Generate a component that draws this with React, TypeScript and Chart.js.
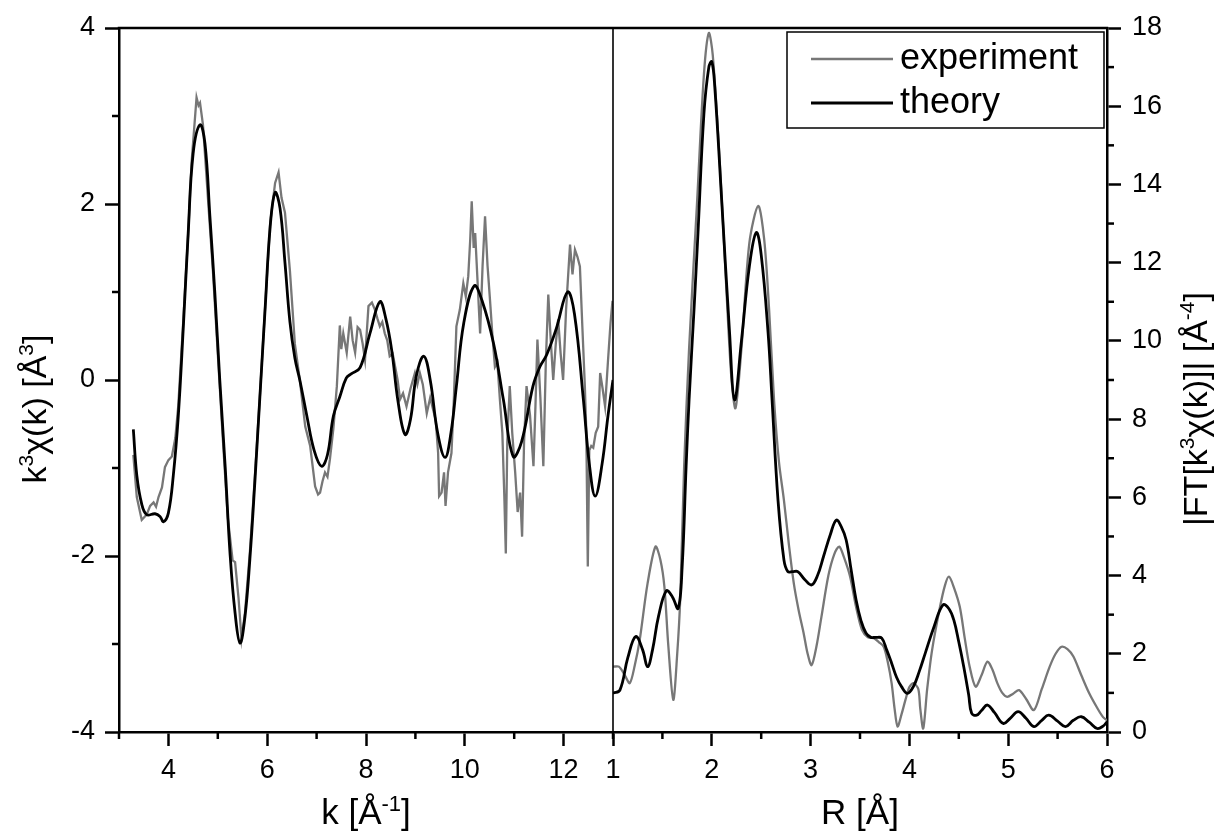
import React, { useEffect, useRef } from 'react';
import { Chart, registerables } from 'chart.js';

Chart.register(...registerables);

// ---------- data: k-space (left panel) ----------
const kExp = [
  3.29, 3.36, 3.46, 3.56, 3.63, 3.70, 3.75, 3.80, 3.87, 3.93, 4.00, 4.07, 4.14, 4.20, 4.30, 4.40, 4.47, 4.57, 4.61, 4.64,
  4.70, 4.80, 4.90, 5.00, 5.10, 5.20, 5.30, 5.35, 5.42, 5.48, 5.55, 5.65, 5.75, 5.85, 5.96, 6.06, 6.16, 6.23, 6.29, 6.36,
  6.46, 6.56, 6.66, 6.77, 6.87, 6.97, 7.03, 7.07, 7.12, 7.17, 7.22, 7.27, 7.34, 7.41, 7.47, 7.50, 7.54, 7.61, 7.68, 7.73,
  7.78, 7.83, 7.88, 7.93, 7.98, 8.05, 8.12, 8.18, 8.23, 8.28, 8.33, 8.38, 8.43, 8.48, 8.54, 8.59, 8.64, 8.69, 8.75, 8.82,
  8.90, 8.99, 9.04, 9.09, 9.15, 9.23, 9.30, 9.36, 9.41, 9.46, 9.48, 9.53, 9.58, 9.61, 9.66, 9.73, 9.78, 9.83, 9.90, 9.97,
  10.02, 10.07, 10.11, 10.14, 10.18, 10.21, 10.26, 10.31, 10.36, 10.41, 10.46, 10.51, 10.56, 10.61, 10.66, 10.71, 10.76, 10.80, 10.83, 10.86,
  10.91, 10.96, 11.02, 11.07, 11.12, 11.16, 11.20, 11.25, 11.32, 11.39, 11.43, 11.47, 11.53, 11.59, 11.64, 11.69, 11.74, 11.79, 11.84, 11.89,
  11.94, 11.99, 12.05, 12.13, 12.18, 12.23, 12.28, 12.33, 12.38, 12.43, 12.46, 12.49, 12.52, 12.56, 12.60, 12.65, 12.70, 12.74, 12.79, 12.84,
  12.90, 12.95, 12.99,
];
const chiExp = [
  -0.85, -1.33, -1.59, -1.53, -1.43, -1.39, -1.44, -1.33, -1.22, -0.99, -0.91, -0.87, -0.66, -0.29, 0.66, 1.66, 2.48, 3.21, 3.12, 3.15,
  2.90, 2.07, 1.25, 0.30, -0.65, -1.55, -2.05, -2.07, -2.48, -2.94, -2.65, -1.95, -1.10, -0.20, 0.85, 1.78, 2.24, 2.36, 2.07, 1.90,
  1.24, 0.41, 0.00, -0.53, -0.75, -1.21, -1.30, -1.28, -1.15, -1.05, -1.10, -0.90, -0.55, -0.07, 0.62, 0.35, 0.53, 0.31, 0.72, 0.45,
  0.31, 0.60, 0.57, 0.42, 0.23, 0.84, 0.88, 0.80, 0.70, 0.61, 0.66, 0.53, 0.45, 0.27, 0.30, 0.15, 0.00, -0.22, -0.15, -0.30,
  -0.10, 0.08, -0.05, 0.08, -0.05, -0.38, -0.20, -0.34, -0.45, -0.83, -1.32, -1.28, -1.05, -1.43, -1.05, -0.83, -0.20, 0.61, 0.80, 1.10,
  0.95, 1.18, 1.60, 2.03, 1.50, 1.67, 1.10, 0.53, 1.30, 1.86, 1.30, 0.91, 0.50, 0.15, 0.20, -0.22, -0.60, -1.32, -1.97, -0.70,
  -0.07, -0.60, -1.05, -1.50, -1.28, -1.78, -0.70, -0.07, -0.40, -0.98, -0.30, 0.46, -0.20, -0.98, 0.20, 0.97, 0.45, 0.00, 0.40, 0.69,
  0.30, 0.00, 0.80, 1.54, 1.20, 1.48, 1.40, 1.29, 0.60, -0.07, -0.60, -2.12, -0.80, -0.75, -0.77, -0.60, -0.53, 0.08, -0.10, -0.30,
  0.23, 0.65, 0.90,
];

const kTh = [
  3.29, 3.36, 3.46, 3.56, 3.73, 3.83, 3.90, 4.00, 4.10, 4.20, 4.30, 4.40, 4.50, 4.64, 4.74, 4.84, 4.94, 5.04, 5.15, 5.25,
  5.35, 5.45, 5.55, 5.65, 5.75, 5.85, 5.96, 6.06, 6.16, 6.26, 6.36, 6.46, 6.56, 6.66, 6.80, 6.95, 7.10, 7.22, 7.34, 7.47,
  7.60, 7.70, 7.88, 8.08, 8.28, 8.40, 8.52, 8.65, 8.79, 8.90, 9.02, 9.17, 9.30, 9.45, 9.60, 9.72, 9.83, 9.98, 10.19, 10.35,
  10.58, 10.78, 10.98, 11.15, 11.38, 11.52, 11.66, 11.85, 12.08, 12.22, 12.40, 12.52, 12.64, 12.78, 12.90, 13.00,
];
const chiTh = [
  -0.56, -1.08, -1.41, -1.53, -1.52, -1.55, -1.61, -1.51, -1.08, -0.41, 0.58, 1.66, 2.57, 2.90, 2.69, 1.86, 0.99, 0.00, -0.99, -1.99,
  -2.65, -2.99, -2.69, -2.03, -1.16, -0.21, 0.83, 1.74, 2.13, 1.95, 1.33, 0.66, 0.25, 0.00, -0.40, -0.80, -0.98, -0.85, -0.41, -0.19,
  0.02, 0.07, 0.14, 0.53, 0.89, 0.70, 0.34, -0.25, -0.62, -0.45, 0.05, 0.27, 0.00, -0.60, -0.88, -0.60, -0.07, 0.65, 1.07, 0.90,
  0.42, -0.22, -0.87, -0.70, -0.07, 0.15, 0.29, 0.58, 1.00, 0.75, -0.22, -0.95, -1.32, -0.95, -0.40, 0.00,
];

// ---------- data: R-space (right panel) ----------
const rExp = [
  1.00, 1.06, 1.12, 1.17, 1.22, 1.27, 1.35, 1.43, 1.48, 1.52, 1.56, 1.61, 1.65, 1.68, 1.72, 1.77, 1.85, 1.92, 1.97, 2.01,
  2.08, 2.15, 2.20, 2.24, 2.30, 2.38, 2.47, 2.53, 2.58, 2.63, 2.68, 2.73, 2.78, 2.83, 2.88, 2.93, 2.97, 3.01, 3.06, 3.11,
  3.18, 3.24, 3.29, 3.34, 3.40, 3.46, 3.52, 3.58, 3.64, 3.69, 3.74, 3.78, 3.82, 3.85, 3.88, 3.92, 3.96, 4.00, 4.04, 4.09,
  4.11, 4.14, 4.18, 4.23, 4.31, 4.36, 4.40, 4.45, 4.51, 4.56, 4.61, 4.67, 4.73, 4.79, 4.84, 4.89, 4.94, 4.99, 5.05, 5.11,
  5.18, 5.26, 5.34, 5.42, 5.48, 5.54, 5.60, 5.66, 5.74, 5.82, 5.90, 5.96, 6.00,
];
const ftExp = [
  1.67, 1.67, 1.45, 1.25, 1.70, 2.35, 3.80, 4.74, 4.40, 3.72, 2.20, 0.82, 2.00, 3.38, 6.79, 9.80, 13.5, 16.8, 17.87, 17.3,
  14.6, 11.2, 9.0, 8.28, 9.8, 12.5, 13.45, 12.6, 10.8, 8.49, 6.9, 5.93, 4.80, 3.80, 3.10, 2.52, 2.00, 1.71, 2.20, 2.95,
  4.00, 4.55, 4.74, 4.45, 3.97, 3.20, 2.61, 2.42, 2.40, 2.30, 2.18, 1.80, 1.25, 0.60, 0.14, 0.45, 0.82, 1.15, 1.25, 1.10,
  0.60, 0.09, 1.10, 2.10, 3.20, 3.75, 3.97, 3.70, 3.20, 2.40, 1.67, 1.16, 1.45, 1.80, 1.60, 1.25, 1.00, 0.90, 0.98, 1.07,
  0.85, 0.56, 1.10, 1.67, 2.00, 2.18, 2.12, 1.93, 1.45, 0.99, 0.62, 0.38, 0.30,
];

const rTh = [
  1.00, 1.07, 1.15, 1.23, 1.30, 1.35, 1.40, 1.46, 1.54, 1.60, 1.66, 1.70, 1.74, 1.77, 1.82, 1.86, 1.92, 1.97, 2.00, 2.03,
  2.10, 2.18, 2.23, 2.30, 2.38, 2.45, 2.50, 2.57, 2.61, 2.67, 2.73, 2.77, 2.82, 2.87, 2.94, 3.01, 3.07, 3.13, 3.20, 3.26,
  3.31, 3.36, 3.41, 3.46, 3.51, 3.56, 3.61, 3.66, 3.72, 3.77, 3.82, 3.87, 3.92, 3.98, 4.04, 4.10, 4.16, 4.25, 4.34, 4.40,
  4.45, 4.50, 4.55, 4.60, 4.63, 4.68, 4.73, 4.79, 4.86, 4.95, 5.02, 5.10, 5.18, 5.26, 5.34, 5.41, 5.50, 5.58, 5.66, 5.74,
  5.82, 5.90, 5.96, 6.00,
];
const ftTh = [
  0.99, 1.07, 1.90, 2.44, 2.10, 1.67, 2.10, 2.95, 3.61, 3.46, 3.16, 4.23, 6.79, 8.49, 10.8, 12.75, 15.8, 17.0, 17.14, 16.5,
  13.6, 10.2, 8.49, 10.0, 11.9, 12.77, 12.2, 10.2, 8.49, 5.93, 4.40, 4.10, 4.10, 4.10, 3.90, 3.76, 4.00, 4.48, 5.05, 5.42,
  5.25, 4.91, 4.15, 3.38, 2.85, 2.53, 2.42, 2.42, 2.40, 2.10, 1.76, 1.40, 1.16, 0.99, 1.16, 1.55, 2.01, 2.70, 3.25, 3.15,
  2.86, 2.30, 1.67, 0.95, 0.48, 0.43, 0.55, 0.69, 0.50, 0.22, 0.35, 0.52, 0.35, 0.14, 0.30, 0.43, 0.28, 0.14, 0.30, 0.39,
  0.25, 0.09, 0.15, 0.26,
];

const seriesLabels = ['experiment', 'theory'];
const seriesColors = ['#777777', '#000000'];

// axis titles: [text, isSuperscript]
const kTitle: [string, boolean][] = [['k [Å', false], ['-1', true], [']', false]];
const chiTitle: [string, boolean][] = [['k', false], ['3', true], ['χ(k) [Å', false], ['3', true], [']', false]];
const rTitle: [string, boolean][] = [['R [Å]', false]];
const ftTitle: [string, boolean][] = [['|FT[k', false], ['3', true], ['χ(k)]| [Å', false], ['-4', true], [']', false]];

const FONT = '"Liberation Sans", Arial, Helvetica, sans-serif';

const zip = (xs: number[], ys: number[]) => xs.map((x, i) => ({ x, y: ys[i] }));

function drawRich(ctx: CanvasRenderingContext2D, parts: [string, boolean][], x: number, y: number, rot: number, size: number) {
  const main = `${size}px ${FONT}`;
  const sub = `${Math.round(size * 0.62)}px ${FONT}`;
  ctx.save();
  ctx.translate(x, y);
  ctx.rotate(rot);
  ctx.fillStyle = '#000';
  ctx.textBaseline = 'alphabetic';
  ctx.textAlign = 'left';
  let w = 0;
  for (const [t, s] of parts) {
    ctx.font = s ? sub : main;
    w += ctx.measureText(t).width;
  }
  let cx = -w / 2;
  for (const [t, s] of parts) {
    ctx.font = s ? sub : main;
    ctx.fillText(t, cx, s ? -size * 0.38 : 0);
    cx += ctx.measureText(t).width;
  }
  ctx.restore();
}

const isMinor = (id: string, v: number) => {
  if (id === 'x2') return Math.abs(v - Math.round(v)) > 1e-6;
  return Math.abs(Math.round(v)) % 2 === 1;
};

const framePlugin = {
  id: 'frame',
  afterDraw(chart: any) {
    const { ctx, chartArea: a, scales } = chart;
    ctx.save();
    ctx.strokeStyle = '#000';
    ctx.lineCap = 'butt';
    // top frame
    ctx.lineWidth = 2.5;
    ctx.beginPath();
    ctx.moveTo(a.left - 1.25, a.top);
    ctx.lineTo(a.right + 1.25, a.top);
    ctx.stroke();
    // divider between panels
    const xd = scales.x.right;
    ctx.lineWidth = 1.6;
    ctx.beginPath();
    ctx.moveTo(xd, a.top);
    ctx.lineTo(xd, a.bottom);
    ctx.stroke();
    // minor ticks
    ctx.lineWidth = 2.5;
    const minorLen = 7;
    for (const id of ['x', 'x2', 'y', 'y2']) {
      const s = scales[id];
      for (const t of s.ticks) {
        if (!isMinor(id, t.value)) continue;
        const p = s.getPixelForValue(t.value);
        ctx.beginPath();
        if (id === 'x' || id === 'x2') {
          ctx.moveTo(p, a.bottom);
          ctx.lineTo(p, a.bottom + minorLen);
        } else if (id === 'y') {
          ctx.moveTo(a.left, p);
          ctx.lineTo(a.left - minorLen, p);
        } else {
          ctx.moveTo(a.right, p);
          ctx.lineTo(a.right + minorLen, p);
        }
        ctx.stroke();
      }
    }
    // axis titles
    const midL = (scales.x.left + scales.x.right) / 2;
    const midR = (scales.x2.left + scales.x2.right) / 2;
    drawRich(ctx, kTitle, midL, 824, 0, 35);
    drawRich(ctx, rTitle, midR, 824, 0, 35);
    drawRich(ctx, chiTitle, 46, 409, -Math.PI / 2, 34);
    drawRich(ctx, ftTitle, 1207, 409, -Math.PI / 2, 34);

    // legend box
    const lx = 787, ly = 32, lw = 317, lh = 96;
    ctx.fillStyle = '#fff';
    ctx.fillRect(lx, ly, lw, lh);
    ctx.lineWidth = 1.5;
    ctx.strokeStyle = '#000';
    ctx.strokeRect(lx, ly, lw, lh);
    seriesLabels.forEach((label, i) => {
      const ds = chart.data.datasets.find((d: any) => d.label === label);
      const yy = ly + 27 + i * 44;
      ctx.strokeStyle = ds.borderColor;
      ctx.lineWidth = ds.borderWidth;
      ctx.beginPath();
      ctx.moveTo(lx + 24, yy);
      ctx.lineTo(lx + 106, yy);
      ctx.stroke();
      ctx.fillStyle = '#000';
      ctx.font = `36px ${FONT}`;
      ctx.textBaseline = 'middle';
      ctx.textAlign = 'left';
      ctx.fillText(label, lx + 113, yy);
    });
    ctx.restore();
  },
};

const tickFont = { family: FONT, size: 27 };

function axisGrid(id: string) {
  return {
    display: true,
    drawOnChartArea: false,
    drawTicks: true,
    tickLength: 14,
    tickWidth: 2.5,
    tickColor: (c: any) => (c.tick && isMinor(id, c.tick.value) ? 'rgba(0,0,0,0)' : '#000'),
  };
}
const border = { display: true, color: '#000', width: 2.5 };

export default function App() {
  const ref = useRef<HTMLCanvasElement>(null);

  useEffect(() => {
    if (!ref.current) return;
    const chart = new Chart(ref.current, {
      type: 'line',
      data: {
        datasets: [
          {
            label: seriesLabels[1], data: zip(kTh, chiTh), xAxisID: 'x', yAxisID: 'y',
            borderColor: seriesColors[1], borderWidth: 2.8, pointRadius: 0, tension: 0.4, order: 0,
          },
          {
            label: seriesLabels[0], data: zip(kExp, chiExp), xAxisID: 'x', yAxisID: 'y',
            borderColor: seriesColors[0], borderWidth: 2.3, pointRadius: 0, tension: 0, order: 1,
          },
          {
            label: seriesLabels[1], data: zip(rTh, ftTh), xAxisID: 'x2', yAxisID: 'y2',
            borderColor: seriesColors[1], borderWidth: 2.8, pointRadius: 0, tension: 0.4, order: 0,
          },
          {
            label: seriesLabels[0], data: zip(rExp, ftExp), xAxisID: 'x2', yAxisID: 'y2',
            borderColor: seriesColors[0], borderWidth: 2.3, pointRadius: 0, tension: 0.3, order: 1,
          },
        ],
      },
      options: {
        animation: false,
        responsive: false,
        devicePixelRatio: 1,
        layout: { padding: { top: 28, left: 0, right: 0, bottom: 0 } },
        plugins: { legend: { display: false }, tooltip: { enabled: false } },
        scales: {
          x: {
            type: 'linear', position: 'bottom', stack: 'bottom', stackWeight: 1,
            min: 3, max: 13,
            ticks: {
              stepSize: 1, autoSkip: false, maxRotation: 0, padding: 8, color: '#000', font: tickFont,
              callback: (v: any) => (Number(v) % 2 === 0 && Number(v) !== 13 ? String(v) : ''),
            },
            grid: axisGrid('x'), border,
            afterFit: (s: any) => { s.height = 102; },
          },
          x2: {
            type: 'linear', position: 'bottom', stack: 'bottom', stackWeight: 1,
            min: 1, max: 6,
            ticks: {
              stepSize: 0.5, autoSkip: false, maxRotation: 0, padding: 8, color: '#000', font: tickFont,
              callback: (v: any) => (Number.isInteger(Number(v)) ? String(v) : ''),
            },
            grid: axisGrid('x2'), border,
            afterFit: (s: any) => { s.height = 102; },
          },
          y: {
            type: 'linear', position: 'left', min: -4, max: 4,
            ticks: {
              stepSize: 1, autoSkip: false, padding: 10, color: '#000', font: tickFont,
              callback: (v: any) => (Math.abs(Number(v)) % 2 === 0 ? String(v) : ''),
            },
            grid: axisGrid('y'), border,
            afterFit: (s: any) => { s.width = 119; },
          },
          y2: {
            type: 'linear', position: 'right', min: 0, max: 18,
            ticks: {
              stepSize: 1, autoSkip: false, padding: 11, color: '#000', font: tickFont,
              callback: (v: any) => (Number(v) % 2 === 0 ? String(v) : ''),
            },
            grid: axisGrid('y2'), border,
            afterFit: (s: any) => { s.width = 107; },
          },
        },
      } as any,
      plugins: [framePlugin],
    });
    return () => chart.destroy();
  }, []);

  return (
    <div style={{ position: 'fixed', left: 0, top: 0, width: 1214, height: 834, background: '#fff' }}>
      <canvas ref={ref} width={1214} height={834} style={{ width: 1214, height: 834, display: 'block' }} />
    </div>
  );
}
